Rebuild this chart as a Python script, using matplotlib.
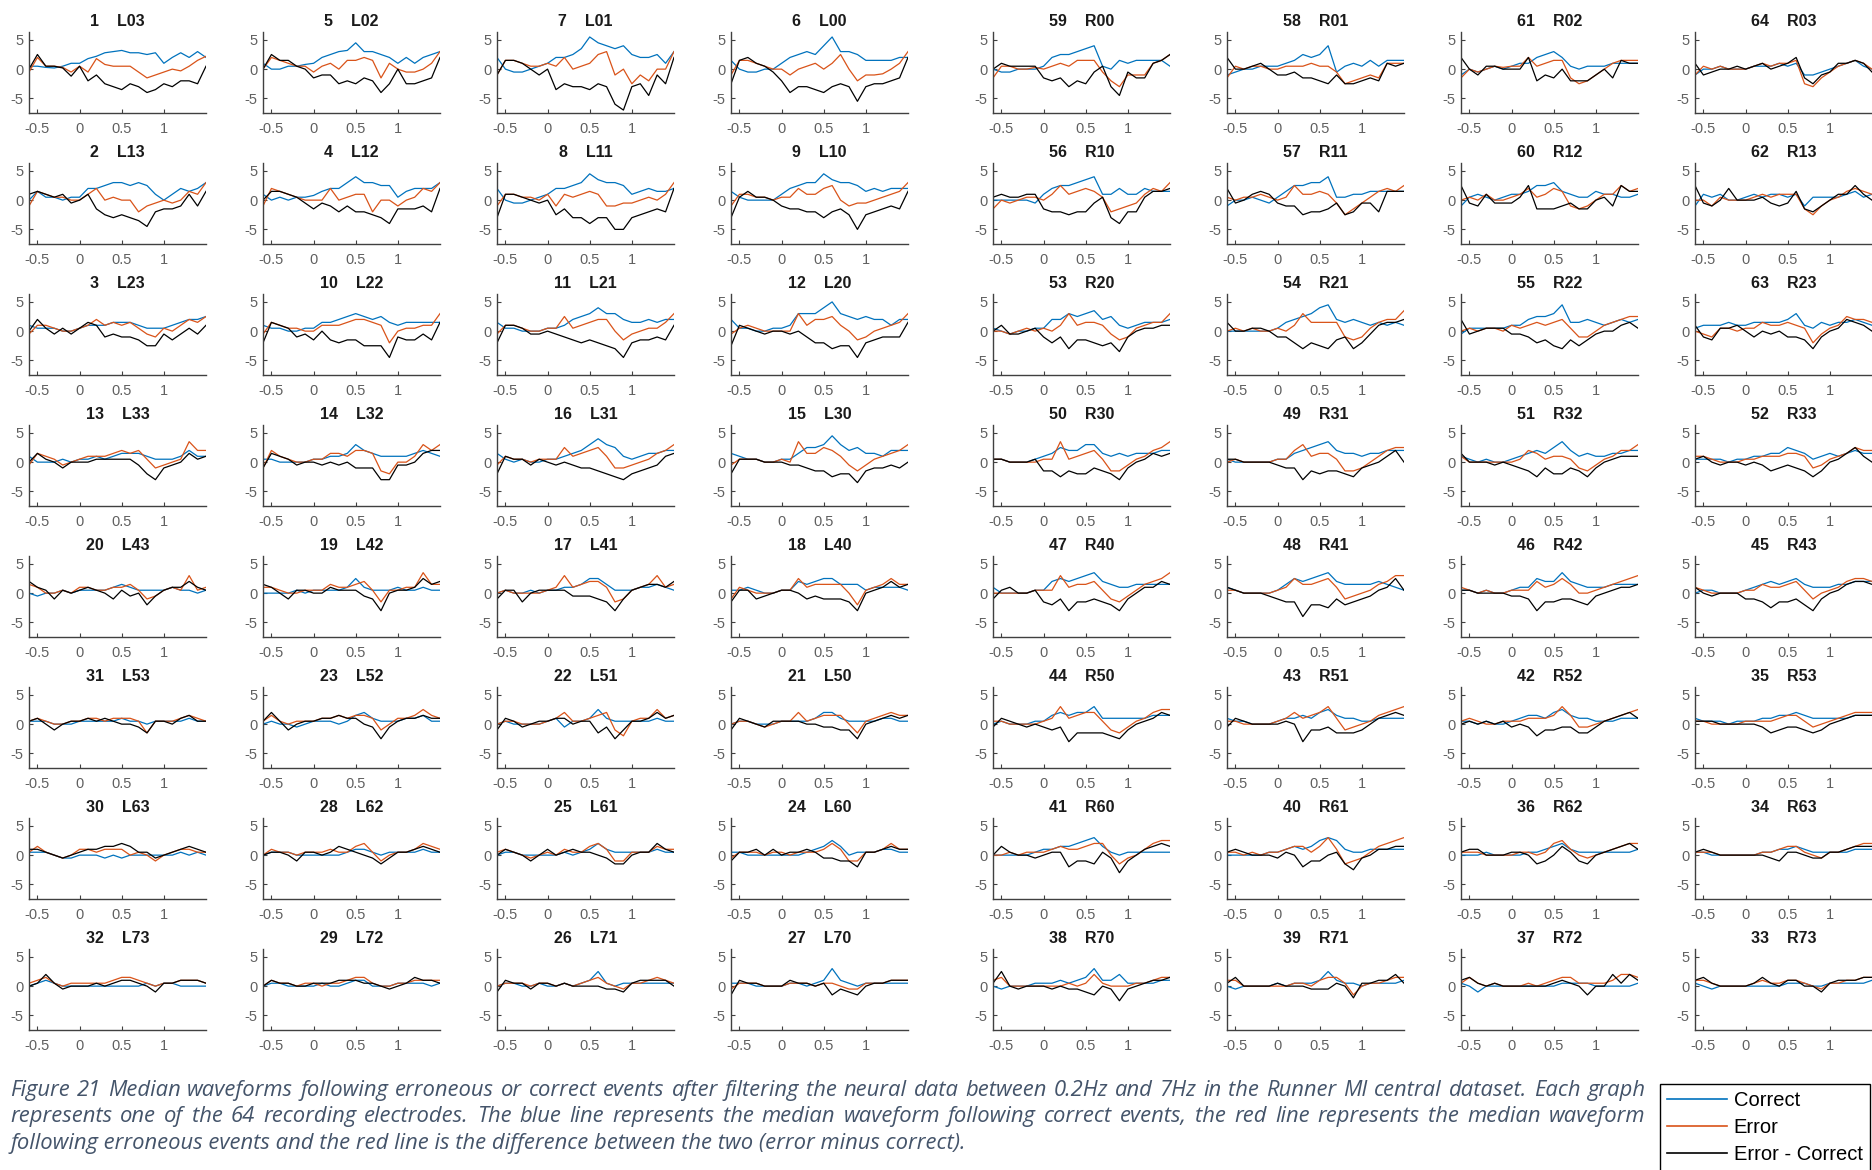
import matplotlib
matplotlib.use('Agg')
import matplotlib.pyplot as plt
from matplotlib.lines import Line2D

W, H = 1872, 1170

time = [-0.6, -0.5, -0.4, -0.3, -0.2, -0.1, 0.0, 0.1, 0.2, 0.3, 0.4,
        0.5, 0.6, 0.7, 0.8, 0.9, 1.0, 1.1, 1.2, 1.3, 1.4, 1.5]

# panels in row-major order (8 x 8 grid)
elec_num = [1, 5, 7, 6, 59, 58, 61, 64,
            2, 4, 8, 9, 56, 57, 60, 62,
            3, 10, 11, 12, 53, 54, 55, 63,
            13, 14, 16, 15, 50, 49, 51, 52,
            20, 19, 17, 18, 47, 48, 46, 45,
            31, 23, 22, 21, 44, 43, 42, 35,
            30, 28, 25, 24, 41, 40, 36, 34,
            32, 29, 26, 27, 38, 39, 37, 33]
elec_name = ['L03', 'L02', 'L01', 'L00', 'R00', 'R01', 'R02', 'R03',
             'L13', 'L12', 'L11', 'L10', 'R10', 'R11', 'R12', 'R13',
             'L23', 'L22', 'L21', 'L20', 'R20', 'R21', 'R22', 'R23',
             'L33', 'L32', 'L31', 'L30', 'R30', 'R31', 'R32', 'R33',
             'L43', 'L42', 'L41', 'L40', 'R40', 'R41', 'R42', 'R43',
             'L53', 'L52', 'L51', 'L50', 'R50', 'R51', 'R52', 'R53',
             'L63', 'L62', 'L61', 'L60', 'R60', 'R61', 'R62', 'R63',
             'L73', 'L72', 'L71', 'L70', 'R70', 'R71', 'R72', 'R73']

# median waveform after correct events
correct = [
    [0.5, 0.5, 0.3, 0.2, 0.5, 1, 1, 1.8, 2.2, 2.8, 3, 3.2, 2.8, 2.8, 2.5, 2.8, 1, 2, 2.8, 2, 3, 2],
    [1, 0, 0, 0.5, 0.5, 0.8, 1, 2, 2.5, 3, 3.2, 4.5, 3, 3, 2.5, 2, 1, 2, 1, 2, 2.5, 3],
    [2, 0, -0.5, -0.5, 0, 0.5, 1, 2, 2, 2.5, 3.5, 5.5, 4.5, 4, 3.5, 4, 2.5, 2, 2, 2.5, 1, 3],
    [1.5, 0, -0.5, -0.5, 0, 0, 1, 2, 2.5, 3, 2.5, 4, 5.5, 3, 3, 2.5, 1.5, 1.5, 1.5, 1.5, 2, 2],
    [0, -0.5, -0.5, 0, 0, 0, 0.5, 2, 2.5, 2.5, 3, 3.5, 4, 0.5, 0, 1.5, 1, 1.5, 1.5, 1.5, 1.5, 0.5],
    [-1, -0.5, 0, 0, 0.5, 0.5, 0.5, 1, 1.5, 2.5, 2, 2.5, 4, -0.5, 0.5, 1, 0.5, 1.5, 0.5, 1.5, 1.5, 1.5],
    [-1, 0, -0.5, 0, 0.5, 0, 0.5, 1, 1, 2, 2.5, 3, 2, 0.5, 0, 0.5, 0.5, 0.5, 1, 1, 1, 1],
    [-1, 0, 0, 0.5, 0, 0, 0, 0.5, 0.5, 0.5, 1, 0.5, 1, -1, -1, -0.5, 0, 0.5, 1, 1.5, 0.5, 0],
    [0, 1.5, 0.5, 0.5, 0, 0.5, 0.5, 2, 2, 2.5, 3, 3, 2.5, 3, 2.5, 1, 0, 1, 2, 1.5, 2, 3],
    [1, 0, 0.5, 0, 0.5, 0.5, 0.8, 1.5, 2, 2, 3, 4, 3, 3, 2.5, 2.5, 0.5, 1.5, 2, 2, 2, 3],
    [2, 0, -0.5, -0.5, 0, 0.5, 1, 2, 2, 2.5, 3, 4.5, 3.5, 3, 3, 2.5, 1, 1.5, 2, 1.5, 1.5, 2],
    [1.5, 0.5, 0, 0, 0, 0, 1, 2, 2.5, 3, 3, 4.5, 3.5, 3, 3, 2.5, 1.5, 2, 1.5, 2, 2, 2],
    [0, 0, 0, 0, 0, -0.5, 1, 2, 2.5, 2.5, 3, 3.5, 4, 1, 1, 2, 1, 1, 2, 1.5, 1.5, 1.5],
    [-1, 0, 0, 0.5, 0, -0.5, 0.5, 1.5, 2.5, 2.5, 3, 3, 4, 0.5, 0.5, 1, 1, 1.5, 1.5, 1.5, 1.5, 1.5],
    [-1, 0.5, 1, 0.5, 0, 0.5, 1, 1, 1.5, 2.5, 2.5, 3, 1.5, 1, 0.5, 0.5, 1.5, 1, 1, 0.5, 0.5, 1],
    [-1, 1, 0.5, 1, 0, 0, 0.5, 1, 0.5, 1, 1, 0.5, 1, -1, 0.5, 0.5, 0.5, 0.5, 1, 1.5, 0.5, 1],
    [1, 0.5, 0.5, 0.5, 0, 0, 0.5, 1, 1, 1, 1.5, 1.5, 1.5, 1, 0.5, 0.5, 0.5, 1, 1.5, 2, 2, 2.5],
    [1, 0.5, 0.5, 0, 0, 0.5, 0.5, 1.5, 1.5, 2, 2.5, 3, 2.5, 2, 2.5, 1.5, 1, 1.5, 1.5, 1.5, 1.5, 1.5],
    [1.5, 0.5, 0.5, 0, 0, 0, 0.5, 0.5, 1, 2, 2.5, 3, 4, 3, 3, 2, 1.5, 1.5, 2, 1.5, 2, 2],
    [2, 0.5, 0.5, 0, 0, 0.5, 0.5, 1, 3, 3, 3, 4, 5, 3, 2.5, 2, 2.5, 2, 2, 1, 2, 2],
    [0.5, 0, -0.5, 0, 0, 0.5, 0.5, 2, 2, 3, 2.5, 3, 3.5, 2, 2.5, 1, 0.5, 1, 1.5, 1.5, 1.5, 2],
    [0, 0, 0, 0, 0, 0, 0.5, 1.5, 2, 2.5, 3, 4, 4.5, 2, 1.5, 2, 1.5, 1, 1.5, 1, 1.5, 1],
    [-0.5, 0.5, 0.5, 0.5, 0.5, 0.5, 1, 1, 2, 2.5, 2.5, 3, 4.5, 1.5, 1.5, 2, 1.5, 1, 1.5, 2, 1.5, 2],
    [0.5, 1, 1, 1, 1.5, 1, 1, 1.5, 1.5, 1.5, 1.5, 2, 3, 1, 0.5, 1.5, 1, 1.5, 1.5, 2, 1.5, 1],
    [1, 0, 0, 0, 0.5, 0, 0.5, 0.5, 1, 0.5, 1, 1.5, 1.5, 1.5, 1, 0.5, 0.5, 0.5, 1, 2, 1, 1],
    [0.5, 0.5, 0, 0, 0, 0, 0.5, 0.5, 1, 1, 1.5, 3, 2, 1.5, 1, 1, 1, 1, 1.5, 2, 1.5, 1],
    [1.5, 0.5, 0, 0.5, 0, 0, 0.5, 0.5, 1, 1.5, 2, 3, 4, 3, 2.5, 1, 0.5, 1, 1.5, 1.5, 2, 2],
    [1.5, 1, 0.5, 0.5, 0, 0, 0.5, 0.5, 1.5, 2.5, 2.5, 3, 4.5, 3, 2, 2.5, 1.5, 1.5, 1, 2, 2, 2],
    [0.5, 0.5, 0, 0, 0, 0.5, 1, 1.5, 2.5, 2, 2, 3, 3, 1.5, 1, 1.5, 1, 1.5, 1.5, 1.5, 2, 2],
    [0.5, 0, 0, 0, 0, 0, 0.5, 0.5, 1.5, 2, 2.5, 3, 3.5, 2, 1.5, 1.5, 1, 1.5, 1.5, 2, 2, 2],
    [1, 0.5, 0, 0.5, 0, 0, 0.5, 1, 1.5, 2, 1.5, 2.5, 3.5, 2, 1, 1.5, 1, 1, 1.5, 1.5, 2, 2],
    [0.5, 0.5, 0.5, 0.5, 0, 0.5, 0.5, 1, 1, 1.5, 1.5, 2.5, 2, 1.5, 0.5, 1, 1.5, 1, 1.5, 2, 1.5, 1.5],
    [0, -0.5, 0, 0, 0.5, 0, 0.5, 0.5, 0.5, 0.5, 1, 1.5, 1, 0.5, 0.5, 0.5, 0.5, 1, 0.5, 0.5, 0, 0.5],
    [0, 0, 0, 0, 0.5, 0, 0.5, 0.5, 0.5, 0.5, 1, 2.5, 1, 0.5, 0.5, 0.5, 1, 0.5, 0.5, 1, 0.5, 0.5],
    [0, 0.5, 0, 0, 0.5, 0, 0.5, 0.5, 1, 1, 1.5, 2.5, 2.5, 1.5, 0.5, 0.5, 0.5, 1, 1, 1.5, 1, 0.5],
    [0.5, 0.5, 1, 0.5, 0, 0, 0.5, 0.5, 2, 1.5, 2, 2.5, 2.5, 1.5, 1.5, 1.5, 0.5, 1, 1, 1, 1, 0.5],
    [1, 0, 0, 0, 0, 0.5, 0.5, 2, 2.5, 2, 2.5, 3, 3.5, 2, 1.5, 1, 1, 1.5, 1.5, 1.5, 1.5, 1.5],
    [1, 0.5, 0, 0, 0, 0, 0.5, 1.5, 2.5, 2, 2.5, 3, 3.5, 2, 1.5, 1.5, 1.5, 1.5, 2, 1.5, 1, 0.5],
    [0.5, 0.5, 0, 0.5, 0, 0, 0.5, 1, 1, 2.5, 2, 2, 3.5, 2, 1.5, 1, 1, 1, 1.5, 1.5, 1.5, 1.5],
    [0, 0.5, 0.5, 0, 0, 0, 0.5, 1, 1.5, 2, 1.5, 2, 2.5, 1.5, 1, 1, 1, 1.5, 1.5, 2, 2, 2],
    [0.5, 0.5, 0.5, 0, 0, 0, 0.5, 0.5, 0.5, 0.5, 0.5, 1, 0.5, 0.5, 0, 0.5, 0.5, 0.5, 0.5, 1, 0.5, 0.5],
    [0, 0.5, 0, 0, -0.5, 0, 0.5, 0.5, 0.5, 0, 0.5, 1.5, 2, 1, 0.5, 0.5, 0.5, 1, 1, 1.5, 0.5, 0.5],
    [0, 0.5, 0, 0, 0, 0, 0.5, 1, -0.5, 0.5, 0.5, 1, 2.5, 1, 0.5, 0.5, 0.5, 0.5, 0.5, 1, 0.5, 0.5],
    [0, 0.5, 0.5, 0, 0, 0, 0.5, 0.5, 0.5, 0.5, 1, 2, 2, 1, 0.5, 0.5, 0.5, 0.5, 1, 1, 0.5, 0.5],
    [0, 0.5, 0, 0, 0, 0.5, 0.5, 1.5, 2, 1.5, 2, 2, 3, 1, 1, 1, 1, 1, 1, 1.5, 1.5, 1.5],
    [1, 0.5, 0.5, 0, 0, 0, 0.5, 1, 1, 1.5, 1, 2, 2.5, 1.5, 1, 1, 0.5, 0.5, 1, 1, 1, 1],
    [0.5, 0.5, 0, 0.5, 0, 0, 0.5, 1, 1.5, 1.5, 1, 2, 2.5, 1.5, 1, 1, 0.5, 0.5, 0.5, 1, 1, 1],
    [1, 0.5, 0.5, 0.5, 0, 0.5, 0.5, 0.5, 1, 1, 1.5, 1.5, 2, 1.5, 1, 1, 1, 1, 1, 1.5, 1.5, 1.5],
    [0.5, 0.5, 0.5, 0, -0.5, -0.5, 0, 0, 0, -0.5, 0, -0.5, 0, 0, 0, 0, 0, 0, 0.5, 0, 0.5, 0],
    [0, 0.5, 0.5, 0.5, 0, 0, 0, 0, 0, 0, 0.5, 1, 1, 0.5, 0, 0.5, 0.5, 0.5, 0.5, 1, 0.5, 0.5],
    [0, 0.5, 0.5, 0, 0, 0, 0, 0, 0.5, 0, 0.5, 1, 2, 1, 0.5, 0.5, 0.5, 0.5, 0.5, 1, 0.5, 0.5],
    [0.5, 0.5, 0, 0, 0, 0, 0, 0, 0, 0.5, 1, 1.5, 2.5, 1.5, 0, 0.5, 0.5, 0.5, 1, 1, 0.5, 0.5],
    [0, 0, 0, 0, 0, 0.5, 1, 1, 1.5, 1.5, 2, 2.5, 3, 1.5, 0.5, 0, 0.5, 0.5, 0.5, 0.5, 0.5, 0.5],
    [0, 0, 0, 0, 0, 0.5, 0.5, 1, 1.5, 1, 1.5, 2.5, 3, 2.5, 1, 0.5, 0.5, 1, 1, 1, 1, 1],
    [0, 0, 0, 0.5, 0, 0, 0, 0, 0.5, 0.5, 1, 1.5, 2, 1, 0.5, 0.5, 0.5, 0.5, 0.5, 0.5, 0.5, 1],
    [0.5, 0.5, 0, 0, 0, 0, 0, 0, 0.5, 0.5, 1, 1, 1.5, 1, 0.5, 0.5, 0.5, 0.5, 0.5, 1, 1, 1],
    [0, 0.5, 1, 0.5, 0, 0, 0, 0, 0, 0, 0, 0, 0, 0, 0.5, 0, 0.5, 0.5, 0, 0, 0, 0],
    [0, 0.5, 0.5, 0, 0, 0, 0, 0.5, 0, 0, 0.5, 1, 1, 0, 0, 0, 0.5, 0.5, 0.5, 0.5, 0, 0.5],
    [0, 0.5, 0.5, 0, 0, 0.5, 0, 0, 0.5, 0, 0.5, 1, 2.5, 0.5, 0, 0.5, 0.5, 0.5, 0.5, 0.5, 0.5, 0.5],
    [0.5, 0.5, 0.5, 0, 0, 0, 0, 0.5, 0.5, 0, 0.5, 1, 3, 1, 0.5, 0, 0.5, 0.5, 0.5, 0.5, 0.5, 0.5],
    [0, -0.5, 0, 0, 0, 0.5, 0.5, 0.5, 1, 0.5, 1, 1.5, 3, 1, 1, 2, 0.5, 0.5, 0.5, 0.5, 1, 1],
    [0, -0.5, 0, 0, 0, 0, 0.5, 0, 0.5, 0.5, 0.5, 1, 2.5, 1, 0.5, 0.5, 0, 0.5, 0.5, 0.5, 0.5, 1],
    [0.5, 0, -1, 0, 0, 0, 0, 0, 0, 0, 0, 0, 0.5, 0.5, 0.5, 0.5, 0, 0, 0, 0, 0, 0.5],
    [0.5, 0, -0.5, 0, 0, 0, 0, 0, 0, 0, 0, 0.5, 0.5, 0.5, 0, 0, 0.5, 0.5, 0.5, 0.5, 0.5, 1],
]

# median waveform after erroneous events
error = [
    [-0.5, 2, 0.5, 0.5, 0.3, -0.5, 0.5, -0.5, 1.8, 0.8, 0.5, 0.5, 0.5, -0.5, -1.5, -1, -0.5, 0, -0.3, 0.5, 1.5, 2.2],
    [0, 2, 1.5, 1, 0.5, 0.5, -0.5, 0.5, 1, 0, 1.5, 1.5, 2, 1.5, -1.5, 1, 0, -0.5, -0.5, 0, 1, 3],
    [-1, 1.5, 1.5, 1, 0.5, 0.5, 1, 0.5, 2, 0, 0.5, 1, 2.5, 3, -1, 0, -2.5, -1, -2, 0, 0, 3],
    [-1, 1.5, 1.5, 1, 0.5, 0, 0, -1, 0, 0.5, 1, 0, 1, 2.5, 0, -2, -1, -1, -0.8, 0, 1, 3],
    [-1.5, 0.5, 0.5, 0, 0, 0.3, 0, 0.5, 1, 0.5, 1.5, 1.5, 1.5, -0.5, -2, -3, -1, -1, -1, 1, 1.5, 2.5],
    [-1.5, 0.5, 0, 0.5, 0.5, 0, 0, 0.5, 0.5, 0.5, 1, 0.5, 0.5, -0.5, -2.5, -2, -1.5, -1, -1.5, 1, 1, 1],
    [-1.5, 0, -0.5, 0, 0.5, 0.3, 0.5, 0.5, 2, 0.5, 1, 1.5, 1.5, -1.5, -2.5, -2, -1, 0, 1, 1.5, 1.5, 1.5],
    [-1, 0.5, 0, 0.5, 0, 0, 0, 0.5, 1, 0.5, 1, 1, 1.5, -2.5, -3, -1.5, -0.5, 0.5, 1, 1.5, 1, 0],
    [-1, 1.5, 1, 0.5, 0.5, 0, 0, 1, 2, 0, 0.5, 0, 0, -2, -1, -0.5, 0, -0.5, 0, 1.5, 1, 3],
    [-1, 2, 1.5, 1, 0.5, 0, 0, 0, 2, 0, 0.5, 1, 1, -2, 0, 0, -1, 0, 0.5, 2, 1.5, 3],
    [-1, 1, 1, 0.5, 0.5, 0, 1, -1, 1, 0.5, 1, 1.5, 1, -1, -1, -0.5, -0.5, 0, 0.5, 0, 1, 3],
    [-1, 1, 1, 0.5, 0.5, 0, 0.5, 0.5, 2, 1, 1, 2, 2.5, 0, -1, -0.5, -0.5, 0, 0.5, 1, 1.5, 3],
    [-1.5, 0, -0.5, 0, 0.5, 0.5, 0, 1, 2.5, 1, 1.5, 2, 1.5, 0.5, -2, -1.5, -1, -0.5, 1, 2, 1.5, 3],
    [0.5, 0, 0.5, 0.5, 1, 0.5, 0, 0.5, 2.5, 1, 1, 1.5, 1, -0.5, -2.5, -1.5, -0.5, 0.5, 1.5, 2, 1.5, 2.5],
    [0, 0.5, 0, 1, 0, 0, 0.5, 1, 2, 0.5, 1, 2, 1.5, -1, -1.5, -1, 0, 1, 1, 2.5, 1.5, 2],
    [0, 0, -1, 0.5, 0, 0, 0, 0.5, 1, 0.5, 1, 1, 1, -1.5, -2.5, -1, 0, 0.5, 1.5, 2, 1.5, 1],
    [-0.5, 1, 1, 0.5, 0, 0, 0.5, 1, 2, 1, 1.5, 1, 1.5, 0.5, -0.5, -1, 0.5, 0, 1, 2, 1.5, 2.5],
    [-0.5, 1.5, 1, 0.5, 0.5, 0, 0, 1, 1, 1, 1.5, 2, 2, 1.5, 1, -2, 0, 0.5, 0.5, 1, 1, 3],
    [-0.5, 1, 1, 0.5, 0, 0, 0.5, 0.5, 2.5, 0.5, 1, 1.5, 2, 2, 0, -1.5, -0.5, 0, 0.5, 0.5, 1.5, 3],
    [-0.5, 0.5, 1, 0.5, 0, 0, 0, 0, 3, 1, 2, 2, 2.5, 1, 0, -1.5, -1, 0, 0.5, 1, 1.5, 3],
    [0, 0, -0.5, 0, 0.5, 0, 0.5, 0, 1, 3, 1, 1.5, 1.5, 1, -0.5, -1.5, -1, 0.5, 1, 1.5, 1.5, 3],
    [0, 0.5, 0, 0.5, 0, 0, 0.5, 0, 1, 3, 1.5, 1.5, 1.5, 1.5, -1, -1.5, -1, 0.5, 1.5, 2, 2, 3.5],
    [0, 0.5, 0, 0.5, 0.5, 0, 1, 0.5, 1, 1.5, 1, 1.5, 2, 0.5, -1, -1, 0, 1, 1.5, 2, 2.5, 2.5],
    [0, -0.5, -1, 0.5, 0.5, 0, 0.5, 0.5, 1.5, 1, 1, 1.5, 1, 0.5, -2, -0.5, 0.5, 1, 2.5, 2, 2, 1.5],
    [-0.5, 1.5, 1, 0.5, -0.5, 0, 0.5, 1, 1, 1, 1.5, 2, 1.5, 2, 0.5, -1, -0.5, 0, 0.5, 3.5, 2, 2],
    [-1, 2, 1, 0.5, 0, 0, 0.5, 0.5, 1.5, 1.5, 1, 2, 2, 1.5, -1.5, -2, 0, 0, 1, 3, 2, 3],
    [-0.5, 1, 0.5, 0.5, 0, 0.5, 0.5, 0.5, 2.5, 1, 1.5, 2, 2.5, 1, -1, -1, -0.5, 0, 0.5, 1.5, 2, 3],
    [-0.5, 0.5, 0.5, 0.5, 0, 0, 0.5, 0, 3.5, 1.5, 1.5, 2.5, 2, 1, -0.5, -1.5, -0.5, 0.5, 1, 1.5, 2, 3],
    [0.5, 0.5, 0, 0, 0, 0, 0.5, 0.5, 3.5, 0.5, 1, 1.5, 2, 0.5, -1.5, -1.5, -0.5, 0.5, 1, 2, 2.5, 3.5],
    [0, 0.5, 0, 0, 0, 0, 0.5, 0.5, 2, 3, 1, 1.5, 1.5, 0.5, -1.5, -1.5, -1, 0, 1, 2, 2.5, 2.5],
    [1, 0, 0, 0, 0, 0, 0, 0.5, 2, 1.5, 0.5, 1, 1, 0.5, -1, -1.5, -0.5, 0.5, 1, 2, 2, 3],
    [1, 1, 0.5, 0, 0, 0, 0.5, 0.5, 1, 1, 1, 1.5, 1.5, 1, -1, -0.5, 0.5, 1, 1.5, 2.5, 2, 2],
    [1.5, 1, 0, 0, 0.5, 0, 1, 1, 0.5, 0.5, 1, 1, 1.5, 0.5, -1, -0.5, 0.5, 1, 0.5, 3, 0.5, 1],
    [1, 1, 0.5, 0, 0, 0.5, 0.5, 0.5, 1.5, 1, 1, 1.5, 2, 0.5, -1.5, 0.5, 0.5, 1, 1, 3.5, 1.5, 1.5],
    [0, 0.5, 0, 0, 0, 0, 0.5, 1, 3, 1, 1.5, 2, 2, 1, -1.5, -1, 0.5, 1, 1.5, 3, 1, 1.5],
    [-1, 1, 0.5, 0, 0, 0, 0.5, 0.5, 2.5, 1, 1.5, 1.5, 1.5, 1.5, 0, -2, 0.5, 1, 1.5, 2.5, 1.5, 1.5],
    [0, 0, 0, 0, 0, 0.5, 0.5, 0.5, 3, 1, 1.5, 1.5, 2, 0.5, -1, -1.5, -0.5, 0.5, 1.5, 2, 2.5, 3.5],
    [0.5, 0.5, 0, 0, 0, 0, 0.5, 1, 2.5, 1.5, 1.5, 2, 2.5, 1, -1, -0.5, 0, 0.5, 1.5, 2, 3, 3],
    [1, 0.5, 0, 0.5, 0, 0, 0.5, 0.5, 0.5, 2, 1, 1.5, 2.5, 1.5, 0, 0, 0.5, 1, 1.5, 2, 2.5, 3],
    [1, 0.5, 0, 0, 0, 0, 0.5, 0.5, 1.5, 1, 1, 1.5, 2, 0.5, -1, 0, 0.5, 1, 2, 2.5, 2.5, 2],
    [0.5, 1, 0.5, 0, 0, 0.5, 0.5, 1, 1, 0.5, 1, 1, 1, 0.5, -1.5, 0.5, 0.5, 0.5, 1, 1.5, 1, 0.5],
    [0.5, 1.5, 0.5, 0, 0.5, 0.5, 0.5, 1, 1, 1.5, 1, 1.5, 1.5, 1, -1, 0, 1, 1, 1.5, 2.5, 1.5, 1],
    [0, 0.5, 0.5, 0, 0, 0, 0.5, 1, 2, 0.5, 0.5, 1, 1.5, 2, -1, -2, 0.5, 1, 1, 2.5, 1, 1.5],
    [0, 0.5, 0.5, 0, -0.5, 0, 0.5, 0.5, 2, 0.5, 1, 1.5, 1.5, 1.5, 0, -1.5, 0.5, 1, 1.5, 2, 1.5, 1.5],
    [0.5, 0.5, 0, 0, 0, 0, 0.5, 1, 3, 1, 1.5, 2, 2, 0.5, -1, -1.5, -0.5, 0.5, 1, 2, 2.5, 2.5],
    [0.5, 0.5, 0, 0, 0, 0, 0.5, 1, 2, 1, 1.5, 2, 3, 1, -1, -0.5, 0, 0.5, 1.5, 2, 2.5, 3],
    [0.5, 1, 0.5, 0, 0, 0.5, 0.5, 0.5, 1, 1, 1, 1.5, 3, 1.5, -0.5, -0.5, 0, 0.5, 1, 1.5, 2, 2.5],
    [0.5, 0.5, 0, 0, 0, 0, 0.5, 0.5, 0.5, 0.5, 1, 1.5, 1.5, 0.5, -0.5, 0, 0.5, 1, 1.5, 2, 2, 2],
    [0.5, 1.5, 0.5, 0, -0.5, 0, 1, 1, 0.5, 1, 1, 1, 0, 0.5, 0, -1, 0, 0.5, 1, 1, 0.5, 0.5],
    [0, 1, 0.5, 0.5, 0, 0.5, 0.5, 0.5, 1, 0.5, 0.5, 1.5, 2, 0.5, -1, 0, 0.5, 0.5, 1, 2, 1.5, 1],
    [0.5, 1, 0.5, 0, -0.5, 0, 0.5, 0, 1, 0.5, 0.5, 1.5, 2, 1, -1, -1, 0.5, 0.5, 0.5, 1.5, 1, 1],
    [-0.5, 0.5, 0.5, 0.5, 0, 0.5, 0.5, 0, 0.5, 0.5, 0.5, 1, 2, 1, -1, -1, 0.5, 0.5, 1, 2, 1, 1],
    [0, 0, 0.5, 0, 0.5, 0.5, 0.5, 1, 1.5, 1, 1, 1.5, 2, 2, 0, -1.5, -0.5, 0, 1, 2, 2.5, 2.5],
    [0.5, 0.5, 0, 0.5, 0, 0.5, 0.5, 1, 1.5, 1.5, 0.5, 1.5, 3, 1, -1.5, -1, -0.5, 0.5, 1.5, 2, 2.5, 3],
    [0.5, 0.5, 0.5, 0, 0, 0, 0, 0.5, 0.5, 0, 0.5, 2, 2.5, 1, 0, -0.5, 0, 0.5, 1, 1.5, 2, 2],
    [0.5, 0.5, 0.5, 0, 0, 0, 0, 0, 0.5, 0.5, 1, 1.5, 1.5, 0.5, 0, -0.5, 0.5, 0.5, 1, 1.5, 2, 2],
    [0.5, 1, 1.5, 0.5, 0, 0.5, 0.5, 0.5, 0.5, 0.5, 1, 1.5, 1.5, 1, 0.5, 0, 0.5, 0.5, 1, 1, 1, 0.5],
    [0, 1, 0.5, 0.5, 0, 0.5, 0.5, 0, 0.5, 0.5, 1, 1.5, 1.5, 0.5, 0, 0, 0.5, 0.5, 1, 1, 1, 1],
    [0, 0.5, 0.5, 0.5, 0, 0.5, 0.5, 0, 0.5, 0, 0.5, 1, 1.5, 0.5, 0, -0.5, 0.5, 0.5, 1, 1.5, 1, 0.5],
    [-0.5, 0.5, 0.5, 0.5, 0, 0, 0, 0.5, 0.5, 0.5, 0, 0.5, 0.5, 0, -0.5, -0.5, 0.5, 0.5, 0.5, 1, 1, 1],
    [1, 1.5, 0, 0, 0, 0, 0, 0, 0, 0.5, 0, 0.5, 2, 0.5, 0, 0, 0, 0.5, 0.5, 1, 1.5, 1.5],
    [1, 1, 0, 0, 0, 0, 0, 0, 0.5, 0.5, 0, 1, 1.5, 1.5, 0.5, -1.5, 0, 0.5, 0.5, 1, 1.5, 1.5],
    [0.5, 1.5, 0.5, 0, 0.5, 0, 0, 0, 0.5, 0, 0.5, 1, 1.5, 1.5, 0.5, 0.5, 0.5, 0.5, 1, 2, 2, 1.5],
    [1, 1, 0.5, 0, 0, 0, 0, 0.5, 1, 0.5, 0.5, 1, 1, 0.5, 0, -0.5, 0.5, 0.5, 1, 1, 1.5, 1.5],
]

# error minus correct
err_minus_corr = [
    [0, 2.5, 0.5, 0.5, 0.2, -1.2, 0.5, -2, -1, -2.5, -3, -3.5, -2.5, -3, -4, -3.5, -2.5, -3, -2, -2, -2.5, 0.5],
    [0, 2.5, 1.5, 1.5, 0.5, 0, -1.5, -1, -1, -2.5, -2, -2.5, -1.5, -2, -4, -2.5, 0, -2.5, -2.5, -2, -1.5, 2],
    [-1, 1.5, 1.5, 1, 0, -1, 0, -3.5, -2.5, -3, -3, -3.5, -2.5, -3, -6, -7, -3, -2.5, -4.5, -1, -2.5, 2],
    [-2.5, 1.5, 2, 1, 0.5, -0.5, -2, -4, -3, -3, -3.5, -4, -3, -2.5, -3, -5.5, -3, -2.5, -2.5, -2, -1.5, 2],
    [0, 1, 0.5, 0.5, 0.5, 0.5, -1.5, -2, -1.5, -3, -2, -2.5, -0.5, 0.5, -3, -4.5, -0.5, -1.5, -1.5, 1, 1.5, 2.5],
    [2, 0, 0, 0.5, 1, 0, -1, -1, -0.5, -1.5, -1.5, -2, -2.5, -1, -2.5, -2.5, -2, -1.5, -2, 1, 0.5, 1],
    [2, 0, -1, 0.5, 0.5, 0, 0, 0, 2, -2, -1, -1.5, 0, -2, -2, -2, -1, 0, -1.5, 1.5, 1, 1],
    [1, -1, -0.5, 0, 0, 0.5, 0, 0.5, 1, 0, 0.5, 1, 2, -1.5, -2.5, -1, -0.5, 1, 1, 1.5, 1, -0.5],
    [1, 1.5, 1, 0.5, 1, -0.5, 0, 1, -1.5, -2.5, -3, -2.5, -3, -3.5, -4.5, -2, -1.5, -1.5, -1, 1, -1, 1.5],
    [0, 1.5, 1.5, 1, 0.5, -0.5, -1.5, -0.5, -1, -2, -1, -2, -2, -2.5, -3, -4, -1.5, -1.5, -1.5, -1, -2, 2],
    [-3, 1, 1, 0.5, 0, -0.5, 0, -2.5, -1.5, -3, -3, -4, -3, -3, -5, -5, -3, -2.5, -2, -1.5, -2, 2],
    [-3, 0.5, 1.5, 0.5, 0.5, 0, -1, -1.5, -1.5, -2, -2, -3, -2, -1.5, -2.5, -5, -2.5, -2, -1.5, -1, -1.5, 1.5],
    [0.5, 1, 0.5, 0.5, 1, 1, -1.5, -2, -2, -2.5, -2, -2, -0.5, 0.5, -3, -4, -2, -2, 0.5, 1.5, 1.5, 2],
    [2, -0.5, 0, 1, 1.5, 1, -0.5, -1, -1, -2.5, -2, -2, -1.5, -0.5, -2.5, -2, -0.5, -0.5, -2, 1.5, 1.5, 1.5],
    [2.5, -0.5, -1, 1, -0.5, -0.5, -0.5, 0.5, 2.5, -1.5, -1.5, -1.5, -1, -0.5, -1.5, -1.5, 0, 0.5, -1, 2.5, 1.5, 1.5],
    [2.5, -0.5, -1, 0, 2, 0, 0, 0, 0.5, -0.5, -1, -0.5, 1.5, -1.5, -2, -1, 0, 1, 1, 2.5, 1, 0],
    [0, 2, 0.5, -0.5, 0.5, -0.5, 0.5, 1.5, 1, -1, -0.5, -1, -1, -1.5, -2.5, -2.5, -0.5, -1.5, -0.5, 0.5, -0.5, 1],
    [-2, 1.5, 1, 0.5, -1, -0.5, -1.5, 0, -1.5, -2, -1.5, -1.5, -2.5, -2.5, -2.5, -4.5, -1, -1.5, -1.5, -0.5, -1.5, 1.5],
    [-2, 1, 1, 0.5, -0.5, -0.5, 0, -0.5, -1, -1.5, -2, -1.5, -2, -2.5, -3, -4.5, -2, -1.5, -1.5, -1, -1.5, 1],
    [-2.5, 1, 0.5, 0, -0.5, 0, 0, -0.5, 0, -1, -2, -2, -3, -2.5, -2.5, -4.5, -2, -1.5, -1, -1, -1, 1.5],
    [0, 1, -0.5, -0.5, 0, 0.5, -1, -2, -1, -3, -1.5, -1.5, -2, -2.5, -2, -3.5, -1, 0, 0.5, 0.5, 1, 1],
    [1.5, 0, 0, 0.5, 0.5, 0, -1, -1, -2, -3, -2, -2.5, -3, -1.5, -1, -3, -2, -0.5, 1, 1.5, 1.5, 2],
    [2, -0.5, 0, 0.5, 0.5, 0.5, -0.5, -0.5, -1, -2, -1.5, -2.5, -3, -1.5, -2.5, -1.5, -0.5, 0, 0, 1, 1.5, 0.5],
    [1, -1, -1.5, 0.5, 0.5, 1, 0, -1, 0, -0.5, 0, -1, -1, -1.5, -3, -1, 0, 0.5, 2, 1.5, 1, 0],
    [0, 1.5, 0.5, 0, -1, 0, 0, 0, 0.5, 0.5, 0.5, 0.5, 0.5, -0.5, -2, -3, -1, -0.5, 0, 1.5, 0.5, 1],
    [-1, 1.5, 1, 0.5, -0.5, 0, 0, -0.5, 0, -0.5, 0, -1, -1, -1, -3, -3, -0.5, -0.5, 0, 1.5, 2, 2],
    [-2, 1, 0.5, 0.5, -0.5, 0.5, 0, -0.5, 0, -0.5, -1, -1, -1.5, -2, -2.5, -3, -2, -1.5, -1, -0.5, 1, 1.5],
    [-2, 0.5, 0.5, 0.5, 0, 0, 0, -0.5, -0.5, -1, -1.5, -1.5, -2.5, -2, -2, -3.5, -1.5, -1, -1, -0.5, -1, 0],
    [0.5, 0.5, 0, 0, 0, 0.5, -1.5, -1.5, -2.5, -1.5, -2, -2, -1, -1.5, -2, -3, -1, 0, 0.5, 1.5, 1, 1.5],
    [0.5, 0.5, 0, 0, 0, 0, -0.5, -1, -1, -3, -1.5, -2, -1.5, -1.5, -2, -2.5, -1, -0.5, 0, 1, 2, 0],
    [1.5, 0, 0, 0, -0.5, 0, -0.5, -1, -1.5, -2.5, -1, -2, -2, -1, -1.5, -2.5, -1, 0, 0.5, 1, 1, 1],
    [0.5, 1, 0, -0.5, 0, 0, -0.5, 0, -0.5, -1.5, -1, -0.5, -1, -1.5, -2.5, -1.5, 0, 0.5, 1.5, 2.5, 1, 0],
    [2, 1, 0.5, -1, 0.5, 0, 0.5, 1, 0.5, 0, -1, 0.5, -0.5, 0, -2, -0.5, 0.5, 1, 1, 2, 1, 0.5],
    [1.5, 1, 0, -1, 0.5, 0.5, 0, 0, 1, 0.5, 0.5, 0.5, -0.5, -1, -3, 0, 0.5, 0.5, 1, 2.5, 1.5, 2],
    [-1, 0.5, 0.5, -1.5, 0, 0.5, 0.5, 0.5, 0.5, -0.5, -0.5, -0.5, -1, -1.5, -3, -1, 0.5, 1, 1.5, 1.5, 1, 2],
    [-1.5, 0.5, 0.5, -1, -0.5, 0, 0.5, 0.5, 0, -1, -0.5, -1, -1, -1, -1.5, -3, 0, 0.5, 1, 2, 1, 1.5],
    [-1, 0.5, 1, 0, 0, 0.5, -1.5, -2, -1, -3, -1.5, -1.5, -1, -1.5, -2, -3, -1, 0, 1, 1, 2, 1.5],
    [1, 0.5, 0, 0, 0, -0.5, -1, -1.5, -1.5, -4, -2, -2, -2.5, -1, -2, -1.5, -1, -0.5, 0.5, 1, 2.5, 0.5],
    [0.5, 0.5, 0, 0, 0, 0, -0.5, -0.5, -1, -3, -1.5, -1.5, -1, -1, -1.5, -2, -0.5, 0, 0.5, 1, 1, 1.5],
    [1, 0, -0.5, 0, 0, 0, -1, -1, -1.5, -2.5, -1.5, -1.5, -1, -2, -3, -1, 0, 0.5, 1.5, 2, 2, 1.5],
    [0.5, 1, 0, -1, 0, 0.5, 0.5, 1, 0.5, 1, 0.5, 0, 0, -0.5, -1.5, 0.5, 0.5, 0, 1, 1.5, 0.5, 0.5],
    [0.5, 2, 0.5, -1, 0, 0.5, 0.5, 1, 1, 1.5, 1, 1, 0, -0.5, -2.5, -0.5, 0.5, 1, 1, 1.5, 1, 1],
    [-1, 1, 0.5, -0.5, 0, 0.5, 0.5, 1, 1, 0, 0.5, 0.5, -1.5, -0.5, -2.5, -1, 0.5, 0.5, 1, 2, 1, 1.5],
    [-1, 1, 0.5, 0, -0.5, 0.5, 0.5, 0.5, 0.5, 0, 0, -0.5, -0.5, -1, -1, -2.5, 0, 0.5, 1, 1.5, 1, 1.5],
    [-0.5, 1, 0.5, 0, -0.5, 0, -0.5, -1, -0.5, -3, -1.5, -1.5, -1.5, -1.5, -2, -2.5, -1, 0, 0.5, 1, 2, 1.5],
    [-0.5, 1, 0.5, 0, 0, 0, 0, 0.5, 0, -3, -1, -1, -0.5, -1.5, -1.5, -1.5, -1, 0, 1, 1.5, 2, 1.5],
    [0, 0.5, 0, 0.5, 0, 0.5, -0.5, 0, -0.5, -2, -1, -1, -0.5, -0.5, -1.5, -1.5, -0.5, 0.5, 1, 1.5, 2, 1],
    [0.5, 0.5, 0.5, 0, 0, 0, 0, 0, -0.5, -1.5, -1, -0.5, -0.5, -1, -1.5, -1, 0, 0.5, 1, 1.5, 1.5, 1.5],
    [1, 1, 0.5, 0, -0.5, 0, 0.5, 1, 1, 1.5, 1.5, 2, 1.5, 0.5, 0.5, -0.5, 0, 0.5, 1, 1.5, 1, 0.5],
    [0, 0.5, 0.5, 0, -1, 0.5, 0.5, 0, 0.5, 1.5, 1, 0.5, 0, -0.5, -1.5, -0.5, 0.5, 0.5, 1, 1.5, 1, 0.5],
    [0, 1, 0.5, 0, -1, 0, 1, 0, 0.5, 1, 0.5, 0.5, 0, -0.5, -1.5, -1.5, 0, 0.5, 0.5, 2, 1, 0.5],
    [-1, 0.5, 0.5, 1, 0, 1, 0, 0.5, 0.5, 1, 0.5, -0.5, -0.5, -1, -1, -2, 0.5, 0.5, 1, 1.5, 1, 1],
    [0, 1.5, 0.5, 0, 0, -0.5, 0, 0.5, 0.5, -2, -1, -1, -1.5, 0.5, -0.5, -3, -1, 0, 1, 1.5, 2, 1.5],
    [0.5, 1, 0.5, 0, 0, 0, -0.5, 0.5, 0, -2, -1, -1, 0, 0.5, -1.5, -2.5, -0.5, 0, 1, 1, 1.5, 1.5],
    [0.5, 1, 1, 0, 0, 0, 0.5, 0.5, 0, -1.5, -1, 0, 1.5, 0.5, -1, -1.5, 0, 0.5, 1, 1.5, 2, 1],
    [0.5, 1, 0.5, 0, 0, 0, 0, 0, 0, -0.5, -1, 0.5, 0.5, 0, -0.5, -0.5, 0.5, 0.5, 1, 1.5, 1.5, 1.5],
    [0, 0.5, 2, 0.5, -0.5, 0, 0, 0, 0.5, 0, 0.5, 1, 1, 0.5, 0, -1, 0.5, 0.5, 1, 1, 1, 0.5],
    [0, 1, 0.5, 0.5, 0, 0, 0.5, 0.5, 0.5, 1, 1, 1, 0.5, 0.5, 0, -0.5, 0, 0.5, 1.5, 1, 1, 0.5],
    [-1, 1, 0.5, 0.5, -0.5, 0.5, 0.5, 0, 0.5, 0, 0, 0, 0, -0.5, -0.5, -1, 0.5, 1, 1, 1, 1, 0],
    [-1.5, 1, 0.5, 0.5, 0, 0, 0, 1, 0.5, 0.5, 0, 0.5, -1.5, -0.5, -1, -1.5, 0, 0.5, 0.5, 1, 1, 1],
    [0.5, 2.5, 0, -0.5, 0, 0, 0, -0.5, 0, -0.5, -0.5, -1, -1.5, 0, -0.5, -2.5, -0.5, 0, 0.5, 1, 1, 1.5],
    [0.5, 1.5, 0, 0, 0, 0, 0.5, 0, 0, 0, -0.5, -0.5, -0.5, 0.5, 0, -2, 0.5, 0.5, 1, 1, 2, 0.5],
    [1, 1.5, 0.5, 0, 0.5, 0, 0, 0, 0, 0, 0, 0.5, 1, 0.5, 0, -1.5, 0, 0, 2, 0.5, 2, 1],
    [1, 1.5, 0.5, 0, 0, 0, 0, 0.5, 1.5, 0.5, 0, 1, 1, 0, 0, -1, 0.5, 1, 1, 1, 1.5, 1.5],
]

caption_lines = [
    "Figure 21 Median waveforms following erroneous or correct events after filtering the neural data between 0.2Hz and 7Hz in the Runner MI central dataset. Each graph",
    "represents one of the 64 recording electrodes. The blue line represents the median waveform following correct events, the red line represents the median waveform",
    "following erroneous events and the red line is the difference between the two (error minus correct).",
]

BLUE = '#0072BD'
ORANGE = '#D95319'
AX_COL = '#404040'
TXT_COL = '#606060'

fig = plt.figure(figsize=(W / 100, H / 100), dpi=100)

col_left = [29, 263, 497, 731, 993, 1227, 1461, 1695]
ax_w, ax_h = 177, 81

for i in range(64):
    r, c = divmod(i, 8)
    top = 32 + 131 * r
    ax = fig.add_axes([col_left[c] / W, 1 - (top + ax_h) / H, ax_w / W, ax_h / H])
    ax.plot(time, correct[i], color=BLUE, lw=0.9)
    ax.plot(time, error[i], color=ORANGE, lw=0.9)
    ax.plot(time, err_minus_corr[i], color='black', lw=0.9)
    ax.set_xlim(-0.6, 1.5)
    ax.set_ylim(-7.5, 6.35)
    ax.set_xticks([-0.5, 0, 0.5, 1])
    ax.set_xticklabels(['-0.5', '0', '0.5', '1'])
    ax.set_yticks([-5, 0, 5])
    ax.set_yticklabels(['-5', '0', '5'])
    for s in ['top', 'right']:
        ax.spines[s].set_visible(False)
    for s in ['left', 'bottom']:
        ax.spines[s].set_color(AX_COL)
        ax.spines[s].set_linewidth(1.0)
    ax.tick_params(direction='in', length=3, width=0.8, color=AX_COL,
                   labelcolor=TXT_COL, labelsize=10.5)
    ax.tick_params(axis='x', pad=6.5)
    ax.tick_params(axis='y', pad=4)
    for lab in ax.get_xticklabels() + ax.get_yticklabels():
        lab.set_family('Liberation Sans')
    ax.set_title(f'{elec_num[i]}    {elec_name[i]}', fontsize=11.5, fontweight='bold',
                 family='Liberation Sans', color='#1a1a1a', pad=4)

# caption, justified like the source document
fig.canvas.draw()
rend = fig.canvas.get_renderer()
cap_kw = dict(family='Open Sans', style='italic', color='#44546A')

probe = fig.text(0, 0, caption_lines[2], fontsize=14, **cap_kw)
size = 14 * 957 / probe.get_window_extent(rend).width
probe.remove()

x_left, x_right = 10, 1645
baselines = [1096, 1122, 1149]
for k, line in enumerate(caption_lines):
    yb = 1 - baselines[k] / H
    if k == 2:
        fig.text(x_left / W, yb, line, fontsize=size, va='baseline', **cap_kw)
        continue
    words = line.split(' ')
    texts = [fig.text(0, yb, w, fontsize=size, va='baseline', **cap_kw) for w in words]
    widths = [t.get_window_extent(rend).width for t in texts]
    gap = (x_right - x_left - sum(widths)) / (len(words) - 1)
    x = x_left
    for t, w in zip(texts, widths):
        t.set_x(x / W)
        x += w + gap

handles = [Line2D([], [], color=BLUE, lw=1.2),
           Line2D([], [], color=ORANGE, lw=1.2),
           Line2D([], [], color='black', lw=1.2)]
leg = fig.legend(handles, ['Correct', 'Error', 'Error - Correct'],
                 loc='upper left', bbox_to_anchor=(1660 / W, 1 - 1084 / H),
                 bbox_transform=fig.transFigure, frameon=True, fancybox=False,
                 edgecolor='black', framealpha=1, prop={'family': 'Liberation Sans', 'size': 14.5},
                 handlelength=3.0, handletextpad=0.3, labelspacing=0.4,
                 borderpad=0.35, borderaxespad=0)
leg.get_frame().set_linewidth(1.0)

fig.savefig('out.png', dpi=100)
